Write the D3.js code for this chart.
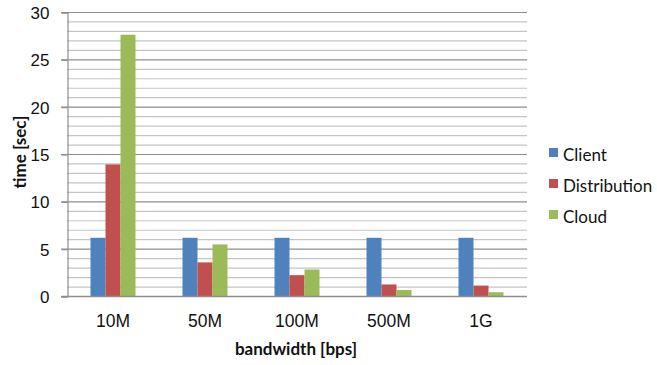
<!DOCTYPE html>
<html>
<head>
<meta charset="utf-8">
<script src="https://cdn.jsdelivr.net/npm/d3@7"></script>
<style>
  html, body { margin: 0; padding: 0; background: #fff; }
  svg { display: block; font-family: Lato, "Open Sans", sans-serif; }
</style>
</head>
<body>
<svg id="chart" width="657" height="365"></svg>
<script>
// Categories and series
const categories = ["10M", "50M", "100M", "500M", "1G"];
const seriesNames = ["Client", "Distribution", "Cloud"];
const clientValues = [6.15, 6.15, 6.15, 6.15, 6.15];
const distributionValues = [13.9, 3.55, 2.2, 1.22, 1.1];
const cloudValues = [27.6, 5.45, 2.8, 0.63, 0.4];
const yTicks = [0, 5, 10, 15, 20, 25, 30];
const colors = ["#4F81BD", "#C0504D", "#9BBB59"];

const seriesValues = [clientValues, distributionValues, cloudValues];

const svg = d3.select("#chart");
const plotLeft = 67, plotRight = 527, plotTop = 12, plotBottom = 296;

const x = d3.scaleBand().domain(categories).range([plotLeft, plotRight]);
const xs = d3.scaleBand().domain(seriesNames).range([0, 45]);
const y = d3.scaleLinear().domain([0, 30]).range([plotBottom, plotTop]);

// Minor gridlines every 1 unit, major every 5
const minor = d3.range(1, 30).filter(v => v % 5 !== 0);
svg.append("g").selectAll("line").data(minor).join("line")
  .attr("x1", plotLeft).attr("x2", plotRight)
  .attr("y1", d => y(d) + 0.5).attr("y2", d => y(d) + 0.5)
  .attr("stroke", "#c4c4c4").attr("stroke-width", 1.2);
svg.append("g").selectAll("line").data(yTicks.filter(v => v > 0)).join("line")
  .attr("x1", plotLeft - 6).attr("x2", plotRight)
  .attr("y1", d => y(d) + 0.5).attr("y2", d => y(d) + 0.5)
  .attr("stroke", "#8e8e8e").attr("stroke-width", 1.2);

// Bars
const groups = svg.append("g").selectAll("g").data(categories).join("g")
  .attr("transform", d => `translate(${x(d) + (x.bandwidth() - 45) / 2},0)`);
groups.selectAll("rect")
  .data((c, i) => seriesNames.map((s, j) => ({ s, v: seriesValues[j][i], j })))
  .join("rect")
  .attr("x", d => xs(d.s))
  .attr("width", xs.bandwidth())
  .attr("y", d => y(d.v))
  .attr("height", d => y(0) - y(d.v))
  .attr("fill", d => colors[d.j]);

// Axes
const yAxis = d3.axisLeft(y).tickValues(yTicks).tickSize(6).tickPadding(12);
const gy = svg.append("g").attr("transform", `translate(${plotLeft + 0.5},0.5)`).call(yAxis);
gy.select(".domain").attr("stroke", "#8e8e8e").attr("stroke-width", 1.2);
gy.selectAll(".tick line").attr("stroke", "#8e8e8e").attr("stroke-width", 1.2);
gy.selectAll("text").attr("font-size", 17).attr("fill", "#111").attr("dy", "0.36em");

const xAxis = d3.axisBottom(x).tickSize(0).tickPadding(18);
const gx = svg.append("g").attr("transform", `translate(0,${plotBottom + 0.5})`).call(xAxis);
gx.select(".domain").attr("stroke", "#8e8e8e").attr("stroke-width", 1.4).attr("d", `M${plotLeft - 6},0H${plotRight}`);
gx.selectAll("text").attr("font-size", 17.5).attr("fill", "#111");

// Axis titles
svg.append("text")
  .attr("transform", `translate(26,152) rotate(-90)`)
  .attr("text-anchor", "middle")
  .attr("font-size", 17).attr("font-weight", "bold").attr("fill", "#111")
  .text("time [sec]");
svg.append("text")
  .attr("x", 296).attr("y", 355)
  .attr("text-anchor", "middle")
  .attr("font-size", 17).attr("font-weight", "bold").attr("fill", "#111")
  .text("bandwidth [bps]");

// Legend
const legend = svg.append("g").selectAll("g").data(seriesNames).join("g")
  .attr("transform", (d, i) => `translate(549,${155 + i * 31})`);
legend.append("rect").attr("x", 0).attr("y", -7).attr("width", 9).attr("height", 9)
  .attr("fill", (d, i) => colors[i]);
legend.append("text").attr("x", 14).attr("y", 0).attr("dy", "0.36em")
  .attr("font-size", 17).attr("fill", "#111").text(d => d);
</script>
</body>
</html>
